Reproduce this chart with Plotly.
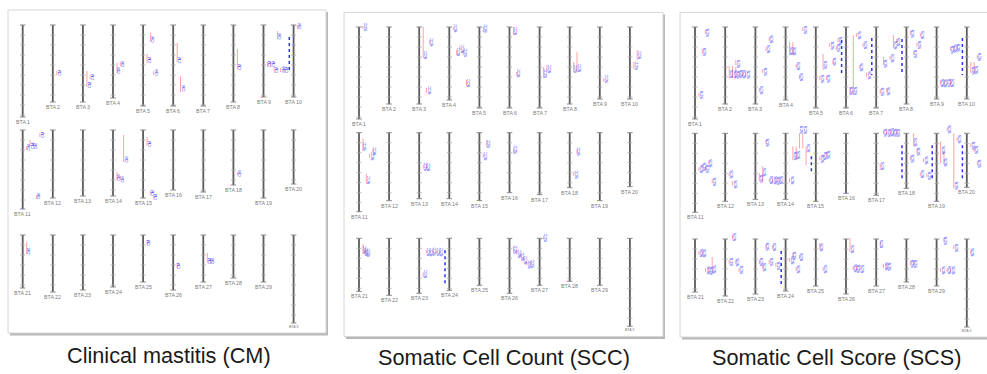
import plotly.graph_objects as go

W, H = 987, 374

# ---------------- data ----------------
CHROM_ROWS = [
    ["1", "2", "3", "4", "5", "6", "7", "8", "9", "10"],
    ["11", "12", "13", "14", "15", "16", "17", "18", "19", "20"],
    ["21", "22", "23", "24", "25", "26", "27", "28", "29", "X"],
]
LEN_ROW1 = [92, 77, 77, 73, 81, 81, 81, 77, 72, 72]
LEN_ROW2 = [79, 68, 66, 66, 68, 60, 62, 55, 68, 54]
LEN_ROW3 = [53, 57, 55, 52, 47, 55, 47, 43, 47, 88]

TITLES = ["Clinical mastitis (CM)", "Somatic Cell Count (SCC)", "Somatic Cell Score (SCS)"]
TRAITS = ["CM", "SCC", "SCS"]

# Clinical mastitis QTL: chromosome, interval start, end, label position, lane
CM_CHR = ["2", "3", "3", "4", "4", "5", "5", "5", "6", "6", "8", "9", "9", "9", "9", "9", "9", "10",
          "11", "11", "11", "11", "11", "14", "14", "14", "15", "15", "15", "18",
          "21", "25", "26", "27", "27"]
CM_START = [46, 46, 50, 38, 37, 8, 29, 46, 18, 51, 24, 6, 37, 37, 42, 43, 43, 0,
            16, 10, 12, 3, 65, 5, 42, 46, 7, 61, 66, 42,
            7, 5, 28, 18, 24]
CM_END = [50, 62, 54, 48, 41, 17, 38, 50, 37, 67, 44, 14, 42, 42, 48, 47, 47, 4,
          20, 16, 16, 7, 69, 32, 50, 50, 16, 65, 69, 45,
          19, 10, 33, 28, 28]
CM_POS = [48, 60, 52, 45.7, 39, 14, 35, 48, 35, 64, 41.7, 11, 39.3, 39.3, 45, 45, 45, 1.7,
          17.7, 16, 16, 5, 66.7, 30, 47.7, 49.3, 14, 62.7, 67.3, 43.3,
          16.7, 7.7, 30.7, 25.7, 26.7]
CM_LANE = [0, 0, 1, 0, 1, 1, 0, 2, 0, 1, 0, 3, 0, 1, 2, 4, 5, 0,
           0, 1, 2, 4, 3, 2, 0, 1, 0, 1, 2, 0,
           0, 0, 0, 0, 1]
CM_DOT_CHR = ["9"]
CM_DOT_START = [12]
CM_DOT_END = [45]

# Somatic cell count QTL
SCC_CHR = ["1", "3", "3", "3", "4", "4", "4", "4", "4", "5", "6", "6", "7", "7", "8", "8", "9", "10", "10",
           "11", "11", "11", "11", "13", "13", "15", "15", "16", "18", "18",
           "21", "21", "21", "23", "23", "23", "23", "23", "23",
           "26", "26", "26", "26", "26", "26", "27"]
SCC_START = [-1, 0, 13, 61, 0, 23, 19, 23, 53, 0, 0, 45, 40, 38, 35, 25, 51, 35, 23,
             6, 21, 16, 41, 32, 32, 8, 21, 15, 17, 39,
             6, 11, 12, 34, 12, 12, 12, 12, 12,
             8, 12, 15, 19, 23, 23, -2]
SCC_END = [2, 31, 17, 66, 3, 28, 23, 28, 59, 5, 8, 49, 51, 44, 45, 45, 55, 42, 33,
           18, 25, 20, 51, 36, 36, 14, 25, 21, 21, 43,
           15, 15, 16, 39, 15, 15, 15, 15, 15,
           15, 16, 19, 23, 27, 27, 1]
SCC_POS = [0, 28, 14.7, 63, 1.3, 24.7, 21.3, 25.7, 55.7, 1.3, 3.7, 45.7, 46.3, 41.3, 41.3, 41.3, 51.3, 38, 28,
           14, 23.3, 18, 47.3, 34, 34, 10.6, 23.3, 16.6, 19, 41.3,
           11.7, 13.4, 14.4, 35.7, 13.4, 13.4, 13.4, 13.4, 13.4,
           11, 15, 18.3, 21.7, 25.7, 25.7, -1]
SCC_LANE = [0, 0, 2, 1, 0, 1, 2, 3, 4, 0, 0, 1, 0, 1, 0, 1, 0, 0, 1,
            0, 2, 3, 1, 0, 1, 1, 0, 0, 1, 0,
            0, 0.5, 1, 0, 1, 2, 3, 4, 5,
            0, 1, 2, 3, 4, 5, 0]
SCC_DOT_CHR = ["23"]
SCC_DOT_START = [12]
SCC_DOT_END = [47]

# Somatic cell score QTL
SCS_CHR = ["1", "1", "1",
           "2", "2", "2", "2", "2", "2", "2",
           "3", "3", "3", "3",
           "4", "4", "4", "4", "4",
           "5", "5", "5", "5", "5", "5", "5",
           "6", "6", "6", "6", "6", "6",
           "7", "7", "7", "7", "7", "7",
           "8", "8", "8", "8",
           "9", "9", "9", "9", "9", "9", "9",
           "10", "10", "10",
           "11", "11", "11", "11", "11",
           "12", "12",
           "13", "13", "13", "13", "13", "13", "13",
           "14", "14", "14", "14", "14", "14",
           "15", "15", "15",
           "17", "17", "17", "17", "17", "17",
           "18", "18", "18", "18", "18", "18",
           "19", "19", "19", "19", "19",
           "20", "20", "20",
           "21", "21", "21", "21", "21",
           "22", "22", "22", "22",
           "23", "23", "23", "23", "23", "23",
           "24", "24", "24", "24",
           "25", "25",
           "26", "26", "26", "26",
           "27", "27", "27",
           "28", "28",
           "29", "29", "29", "29", "29",
           "X"]
SCS_START = [3, 22, 66,
             39, 39, 40, 33, 45, 45, 45,
             10, 20, 42, 61,
             15, 15, 0, 37, 48,
             27, 49, 49, 16, 33, 19, 11,
             8, 60, 6, 38, 16, 46,
             62, 30, 61, 29, 8, 12,
             4, 24, 16, 6,
             53, 53, 53, 53, 20, 19, 19,
             35, 35, 28,
             34, 31, 33, 27, 46,
             39, 48,
             7, 33, 40, 45, 45, 45, 45,
             13, 13, 0, 0, 45, 13,
             23, 21, 19,
             30, -3, -3, -3, -3, -3,
             0, 23, 16, 39, 25, 40,
             8, 18, 0, -6, 4,
             10, 15, 28,
             12, 12, 29, 29, 18,
             -4, 21, 21, 29,
             21, 26, 6, 21, 6, 24,
             19, 14, 28, 16,
             4, 28,
             -1, 27, 27, 27,
             3, 25, 25,
             22, 22,
             -1, 29, 29, 29, 6,
             11]
SCS_END = [7, 27, 70,
           51, 51, 51, 38, 49, 49, 49,
           14, 24, 46, 65,
           28, 28, 4, 41, 52,
           43, 53, 53, 20, 37, 23, 15,
           68, 68, 10, 42, 20, 50,
           67, 38, 66, 33, 21, 16,
           8, 28, 20, 10,
           58, 58, 58, 58, 24, 23, 23,
           46, 46, 32,
           38, 35, 37, 31, 50,
           43, 52,
           11, 48, 48, 49, 49, 49, 49,
           27, 27, 15, 15, 49, 32,
           27, 25, 23,
           37, 1, 1, 1, 1, 1,
           13, 27, 20, 43, 29, 44,
           30, 31, 55, -2, 8,
           14, 19, 32,
           16, 16, 33, 33, 34,
           0, 25, 25, 33,
           25, 30, 10, 25, 10, 28,
           23, 18, 32, 20,
           11, 32,
           13, 31, 31, 31,
           7, 29, 29,
           26, 26,
           3, 33, 33, 33, 10,
           15]
SCS_POS = [5.3, 24.7, 68,
           47, 47, 47, 36.3, 47, 47, 47,
           12.3, 22.3, 44, 63,
           23.7, 23.7, 2.3, 39, 49.7,
           38, 51.3, 51.3, 18, 34.7, 20.7, 13,
           63.7, 63.7, 8, 39.7, 18, 48,
           64.7, 36.3, 63.7, 31.3, 18, 14.7,
           6.3, 26.3, 18, 8,
           55.7, 55.7, 55.7, 55.7, 22.3, 20.7, 20.7,
           43, 43, 29.7,
           36, 33.3, 35, 29.3, 48.4,
           41, 50.7,
           9.4, 38.4, 45, 46.7, 46.7, 46.7, 46.7,
           21.7, 21.7, -4, -4, 46.7, 15,
           25, 22.7, 21,
           32.7, -1, -1, -1, -1, -1,
           8.4, 25, 18.4, 40.7, 26.7, 41.7,
           16.7, 28.4, 51.7, -4, 6,
           11.7, 16.7, 30,
           14.3, 14.3, 31, 31, 30.3,
           -2.3, 22.7, 22.7, 31,
           22.7, 27.7, 7.7, 22.7, 7.7, 26,
           21, 16, 30.3, 17.7,
           7.7, 30.3,
           10.3, 29.3, 29.3, 29.3,
           5, 27, 27,
           24.3, 24.3,
           1, 31, 31, 31, 8.3,
           12.7]
SCS_LANE = [2, 1, 0,
            0, 1, 2, 2, 3, 4, 5,
            3, 2, 1, 0,
            0, 1, 4, 2, 3,
            1, 0, 2, 3, 4, 5, 5.5,
            1, 0, 2, 3, 4, 5,
            0, 1, 2, 3, 4, 5,
            0, 1, 2, 3,
            0, 1, 2, 3, 3, 4, 5,
            0, 1, 2,
            0, 1, 2, 3, 4,
            0, 1,
            2, 1, 0, 3, 4, 5, 6,
            1, 2, 3, 4, 0, 5,
            0, 1, 2,
            0, 1, 2, 3, 4, 5,
            1, 0, 2, 3, 4, 5,
            0, 1, 4, 2, 5,
            0, 1, 2,
            0, 1, 2, 3, 4,
            1, 0, 2, 3,
            0, 1, 2, 3, 4, 5,
            0, 1, 2, 3,
            0, 1,
            0, 1, 2, 3,
            0, 1, 2,
            0, 1,
            1, 0, 2, 3, 4,
            0]
SCS_DOT_CHR = ["5", "6", "7", "9", "14", "17", "18", "19", "23"]
SCS_DOT_START = [13, 11, 12, 11, 23, 12, 12, 12, 12]
SCS_DOT_END = [48, 48, 48, 48, 40, 48, 48, 48, 47]

QTL = [
    (CM_CHR, CM_START, CM_END, CM_POS, CM_LANE, CM_DOT_CHR, CM_DOT_START, CM_DOT_END),
    (SCC_CHR, SCC_START, SCC_END, SCC_POS, SCC_LANE, SCC_DOT_CHR, SCC_DOT_START, SCC_DOT_END),
    (SCS_CHR, SCS_START, SCS_END, SCS_POS, SCS_LANE, SCS_DOT_CHR, SCS_DOT_START, SCS_DOT_END),
]

# ---------------- layout / style ----------------
PANEL_BOX = [(8, 10, 326, 333), (344, 12.5, 663, 336.5), (680, 12.5, 1000, 337)]
FIRST_X = [22.7, 359.0, 695.0]
STEP_X = [30.1, 30.1, 30.2]
ROW_TOP = [[25, 130, 235], [27, 132.7, 238.3], [27, 133.3, 239]]
CAPTION_XY = [(169, 355), (504, 357), (836, 357)]
LANE_BASE, LANE_STEP, LABEL_GAP = 4.0, 3.3, 2.0
Y_ABOVE, Y_BELOW = 15, 103

CHR_COLOR = "#5c5c5c"
TICK_COLOR = "#a8a8a8"
QTL_RED = "#ffa3a3"
QTL_BLUE = "#2e2eff"
LABEL_GRAY = "#7c7c7c"

LENGTHS = [LEN_ROW1, LEN_ROW2, LEN_ROW3]
POS_OF = {}
for r, row in enumerate(CHROM_ROWS):
    for c, name in enumerate(row):
        POS_OF[name] = (r, c, LENGTHS[r][c])


def fx(px):
    return px / W


def fy(py):
    return 1 - py / H


fig = go.Figure()
shapes, annotations, axes = [], [], {}

for p in range(3):
    L, T, R, B = PANEL_BOX[p]
    shapes.append(dict(type="rect", xref="paper", yref="paper", layer="below",
                       x0=fx(L + 2), x1=fx(R + 2), y0=fy(B + 2.5), y1=fy(T + 2),
                       fillcolor="#b8b8b8", line=dict(width=0)))
    shapes.append(dict(type="rect", xref="paper", yref="paper", layer="below",
                       x0=fx(L), x1=fx(R), y0=fy(B), y1=fy(T),
                       fillcolor="white", line=dict(color="#d6d6d6", width=1)))
    Lc, Rc = max(L, 0), min(R, W)
    s = STEP_X[p]
    chrs, starts, ends, poss, lanes, dchr, dst, den = QTL[p]
    for r in range(3):
        k = p * 3 + r + 1
        xs = "" if k == 1 else str(k)
        top = ROW_TOP[p][r]
        axes["xaxis" + xs] = dict(domain=[fx(Lc), fx(Rc)],
                                  range=[(Lc - FIRST_X[p]) / s, (Rc - FIRST_X[p]) / s],
                                  visible=False, fixedrange=True, anchor="y" + xs)
        axes["yaxis" + xs] = dict(domain=[fy(top + Y_BELOW), fy(top - Y_ABOVE)],
                                  range=[Y_BELOW, -Y_ABOVE],
                                  visible=False, fixedrange=True, anchor="x" + xs)
        # chromosomes
        cx, cy, tx, ty, ex, ey = [], [], [], [], [], []
        for c, name in enumerate(CHROM_ROWS[r]):
            ln = LENGTHS[r][c]
            cx += [c, c, None]
            cy += [0, ln, None]
            t = 10
            while t < ln:
                tx.append(c)
                ty.append(t)
                t += 10
            ex += [c, c]
            ey += [0, ln]
            annotations.append(dict(
                xref="x" + xs, yref="y" + xs, x=c, y=ln, yshift=0,
                text="BTA " + name, showarrow=False, xanchor="center", yanchor="top",
                font=dict(family="Liberation Sans", size=3.5 if name == "X" else 5.3,
                          color=LABEL_GRAY)))
        fig.add_trace(go.Scatter(x=cx, y=cy, mode="lines", xaxis="x" + xs, yaxis="y" + xs,
                                 line=dict(color=CHR_COLOR, width=1.8), hoverinfo="skip",
                                 showlegend=False))
        fig.add_trace(go.Scatter(x=tx, y=ty, mode="markers", xaxis="x" + xs, yaxis="y" + xs,
                                 marker=dict(symbol="line-ew", size=3.5,
                                             line=dict(color=TICK_COLOR, width=0.8)),
                                 hoverinfo="skip", showlegend=False))
        fig.add_trace(go.Scatter(x=ex, y=ey, mode="markers", xaxis="x" + xs, yaxis="y" + xs,
                                 marker=dict(symbol="line-ew", size=4,
                                             line=dict(color="#8a8a8a", width=1)),
                                 hoverinfo="skip", showlegend=False))
        # QTL intervals and labels
        qx, qy = [], []
        for i, name in enumerate(chrs):
            rr, cc, _ = POS_OF[name]
            if rr != r:
                continue
            xoff = (LANE_BASE + LANE_STEP * lanes[i]) / s
            qx += [cc + xoff, cc + xoff, None]
            qy += [starts[i], ends[i], None]
            annotations.append(dict(
                xref="x" + xs, yref="y" + xs, x=cc + xoff + LABEL_GAP / s, y=poss[i],
                text=TRAITS[p], textangle=-90, showarrow=False,
                xanchor="center", yanchor="middle", borderpad=0,
                font=dict(family="Liberation Sans", size=4.0, color=QTL_BLUE)))
        fig.add_trace(go.Scatter(x=qx, y=qy, mode="lines", xaxis="x" + xs, yaxis="y" + xs,
                                 line=dict(color=QTL_RED, width=1), hoverinfo="skip",
                                 showlegend=False, cliponaxis=False))
        dx, dy = [], []
        for i, name in enumerate(dchr):
            rr, cc, _ = POS_OF[name]
            if rr != r:
                continue
            xoff = (LANE_BASE + LANE_STEP * 6 + LABEL_GAP) / s
            dx += [cc + xoff, cc + xoff, None]
            dy += [dst[i], den[i], None]
        if dx:
            fig.add_trace(go.Scatter(x=dx, y=dy, mode="lines", xaxis="x" + xs, yaxis="y" + xs,
                                     line=dict(color=QTL_BLUE, width=1.5, dash="dot"),
                                     hoverinfo="skip", showlegend=False))
    cxp, cyp = CAPTION_XY[p]
    annotations.append(dict(xref="paper", yref="paper", x=fx(cxp), y=fy(cyp),
                            text=TITLES[p], showarrow=False, xanchor="center", yanchor="middle",
                            font=dict(family="Liberation Sans", size=21.7, color="#1a1a1a")))

fig.update_layout(width=W, height=H, margin=dict(l=0, r=0, t=0, b=0),
                  paper_bgcolor="white", plot_bgcolor="rgba(0,0,0,0)",
                  shapes=shapes, annotations=annotations, showlegend=False, **axes)

fig.write_html("out.html")
